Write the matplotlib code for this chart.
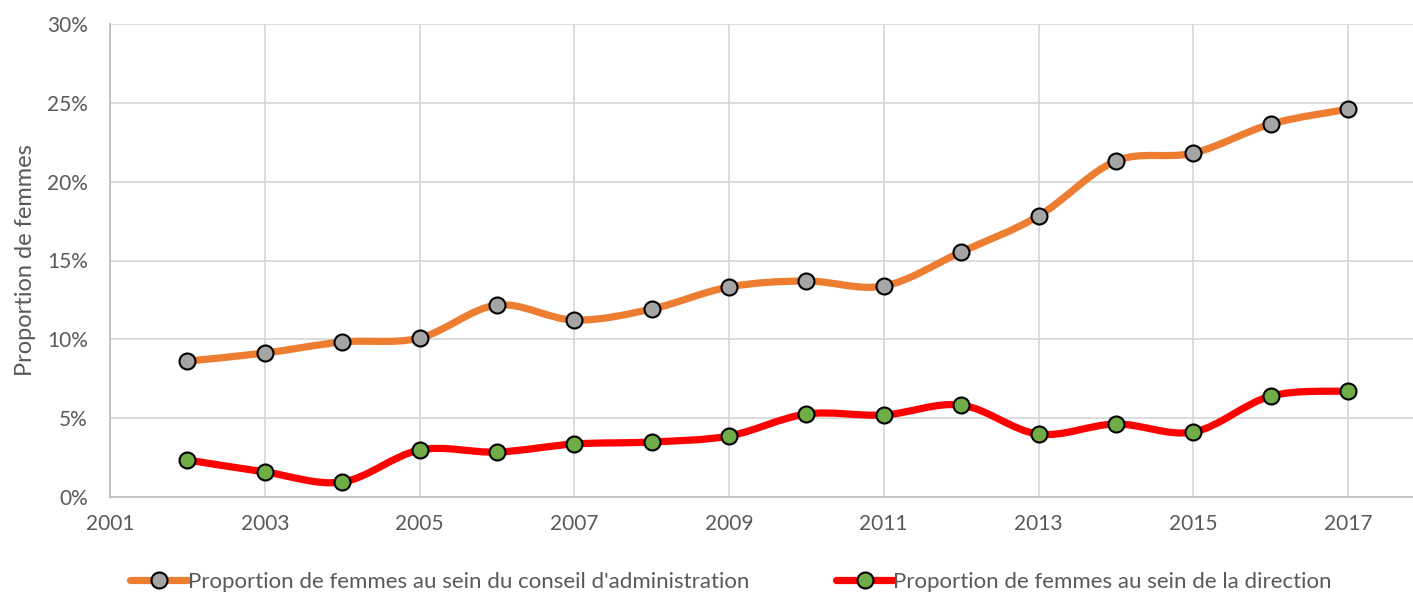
import numpy as np
import matplotlib
matplotlib.use("Agg")
import matplotlib.pyplot as plt
from matplotlib.path import Path
from matplotlib.patches import PathPatch
from matplotlib.lines import Line2D
from matplotlib.ticker import FuncFormatter

plt.rcParams['font.family'] = ['Lato', 'DejaVu Sans']

years = [2002, 2003, 2004, 2005, 2006, 2007, 2008, 2009, 2010, 2011,
         2012, 2013, 2014, 2015, 2016, 2017]
conseil = [8.62, 9.13, 9.83, 10.08, 12.17, 11.22, 11.92, 13.32, 13.70, 13.38,
           15.54, 17.82, 21.31, 21.81, 23.65, 24.60]
direction = [2.35, 1.59, 0.95, 2.98, 2.85, 3.36, 3.49, 3.87, 5.26, 5.20,
             5.83, 3.99, 4.63, 4.12, 6.40, 6.72]
labels = ["Proportion de femmes au sein du conseil d'administration",
          "Proportion de femmes au sein de la direction"]
xticks = [2001, 2003, 2005, 2007, 2009, 2011, 2013, 2015, 2017]

txt = '#595959'
grid = '#d9d9d9'


def smooth_path(x, y):
    # Excel-style smoothed line: cubic Bezier segments through the points
    p = np.column_stack([x, y]).astype(float)
    pad = np.vstack([p[0], p, p[-1]])
    verts = [p[0]]
    codes = [Path.MOVETO]
    for i in range(len(p) - 1):
        a, b, c, d = pad[i], pad[i + 1], pad[i + 2], pad[i + 3]
        verts += [b + (c - a) / 6, c - (d - b) / 6, c]
        codes += [Path.CURVE4] * 3
    return Path(verts, codes)


fig = plt.figure(figsize=(14.13, 5.92), dpi=100)
ax = fig.add_axes([110 / 1413, 1 - 497 / 592, 1 - 110 / 1413, (497 - 24) / 592])

series = [
    (conseil, '#ED7D31', '#A5A5A5'),
    (direction, '#FF0000', '#70AD47'),
]
handles = []
for vals, lc, mc in series:
    ax.add_patch(PathPatch(smooth_path(years, vals), fill=False, edgecolor=lc,
                           lw=5.2, capstyle='round', joinstyle='round', zorder=3))
    ax.plot(years, vals, ls='none', marker='o', ms=11.5, mfc=mc, mec='black',
            mew=1.5, zorder=4)
    handles.append(Line2D([], [], color=lc, lw=5.2, marker='o', ms=11.5,
                          mfc=mc, mec='black', mew=1.5, solid_capstyle='round'))

ax.set_xlim(2001, 2001 + (1413 - 110) / 77.375)
ax.set_ylim(0, 30)
ax.set_xticks(xticks)
ax.set_yticks(range(0, 31, 5))
ax.yaxis.set_major_formatter(FuncFormatter(lambda v, _: f"{v:.0f}%"))
ax.grid(True, color=grid, lw=1.3)
ax.set_axisbelow(True)
for s in ['top', 'right']:
    ax.spines[s].set_visible(False)
for s in ['left', 'bottom']:
    ax.spines[s].set_color('#bfbfbf')
    ax.spines[s].set_linewidth(1.3)
ax.tick_params(length=0, labelsize=15, colors=txt)
ax.tick_params(axis='y', pad=16)
ax.tick_params(axis='x', pad=12)
ax.set_ylabel('Proportion de femmes', fontsize=17, color=txt, labelpad=8)

fig.legend(handles, labels, loc='lower left', bbox_to_anchor=(121 / 1413, -0.015),
           ncol=2, frameon=False, fontsize=16, labelcolor=txt, handlelength=2.6,
           handletextpad=0.0, columnspacing=3.9, borderaxespad=0)

fig.savefig('out.png', dpi=100)
